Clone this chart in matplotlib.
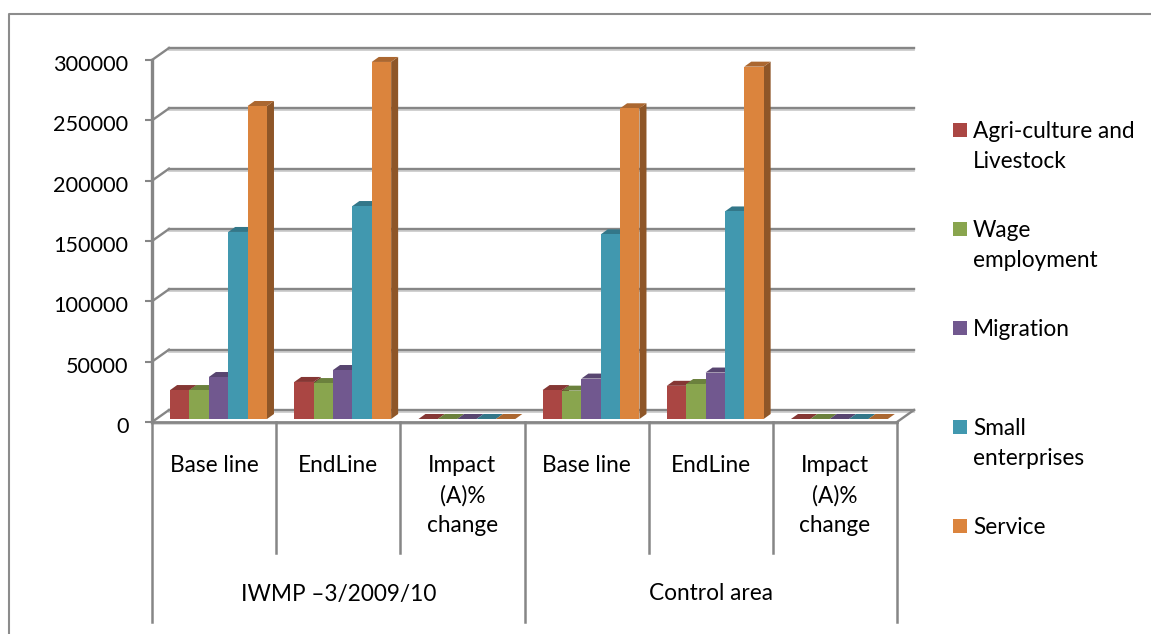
import matplotlib
matplotlib.use('Agg')
import matplotlib.pyplot as plt
from matplotlib.lines import Line2D
from matplotlib.patches import Polygon, Rectangle
from matplotlib.transforms import Affine2D, IdentityTransform
import numpy as np

plt.rcParams['font.family'] = ['Lato', 'DejaVu Sans']

W, H = 1151, 634

categories = ['Base line', 'EndLine', 'Impact\n(A)%\nchange',
              'Base line', 'EndLine', 'Impact\n(A)%\nchange']
groups = ['IWMP –3/2009/10', 'Control area']
series = ['Agri-culture and\nLivestock', 'Wage\nemployment', 'Migration',
          'Small\nenterprises', 'Service']
agri = [24000, 30700, 5, 24000, 27500, 5]
wage = [24000, 29800, 5, 23500, 29000, 5]
migration = [34800, 40600, 5, 33500, 38500, 5]
small = [155000, 176500, 5, 153000, 172000, 5]
service = [259400, 295900, 5, 257500, 292000, 5]
colors = ['#AA4643', '#89A54E', '#71588F', '#4198AF', '#DB843D']
yticks = [0, 50000, 100000, 150000, 200000, 250000, 300000]

GRAY = '#868686'
FS = 16.3


def darker(c, f):
    return tuple(np.array(matplotlib.colors.to_rgb(c)) * f)


fig = plt.figure(figsize=(W / 100, H / 100), dpi=100)
ax = fig.add_axes([152 / W, 1 - 422 / H, 745 / W, 362 / H])
ax.set_xlim(0, 6)
ax.set_ylim(0, 300000)
ax.patch.set_alpha(0)
for s in ['top', 'right', 'bottom']:
    ax.spines[s].set_visible(False)
ax.spines['left'].set_color(GRAY)
ax.spines['left'].set_linewidth(2.4)
ax.set_xticks([])
ax.set_yticks(yticks)
ax.set_yticklabels([str(t) for t in yticks])
ax.tick_params(axis='y', length=5, width=1.5, color=GRAY, labelsize=15.6, pad=12)
for lab in ax.get_yticklabels():
    lab.set_transform(lab.get_transform() + Affine2D().translate(0, -3))

pix = IdentityTransform()


def shifted(dx, dy):
    return ax.transData + Affine2D().translate(dx, dy)


# outer chart border, only top and left show
fig.add_artist(Line2D([9 / W, 9 / W, 1], [0, 1 - 14 / H, 1 - 14 / H], color='#8c8c8c', lw=1.5))

# back wall gridlines and the wall diagonals
for t in yticks:
    ax.plot([0, 6], [t, t], color='#c8c8c8', lw=1.2, transform=shifted(17, 10), clip_on=False, zorder=1)
    ax.plot([0, 6], [t, t], color=GRAY, lw=1.7, transform=shifted(17, 12), clip_on=False, zorder=1.1)
    x0, y0 = ax.transData.transform((0, t))
    ax.add_line(Line2D([x0, x0 + 17], [y0, y0 + 12], color=GRAY, lw=1.7, transform=pix, clip_on=False, zorder=1.1))

# floor edges
ax.plot([0, 6], [0, 0], color='#d0d0d0', lw=1.2, transform=shifted(0, -2), clip_on=False, zorder=1)
ax.plot([0, 6], [0, 0], color=GRAY, lw=2.0, clip_on=False, zorder=5)
x1, y1 = ax.transData.transform((6, 0))
ax.add_line(Line2D([x1, x1 + 17], [y1, y1 + 12], color=GRAY, lw=1.7, transform=pix, clip_on=False, zorder=1.1))

# 3d bars, painted left to right so the next front covers the last side face
bar_w = 0.156
start = 0.146
values = [agri, wage, migration, small, service]
z = 2.0
for i in range(len(categories)):
    for j, vals in enumerate(values):
        left = i + start + j * bar_w
        v = vals[i]
        ax.bar(left, v, bar_w, align='edge', color=colors[j], transform=shifted(0, 3), zorder=z + 0.2, clip_on=False)
        (xa, ya), (xb, yb) = ax.transData.transform([(left, v), (left + bar_w, 0)])
        ya += 3
        yb += 3
        ax.add_patch(Polygon([(xb, yb), (xb + 7, yb + 5), (xb + 7, ya + 5), (xb, ya)], color=darker(colors[j], 0.65),
                             transform=pix, zorder=z, clip_on=False, lw=0))
        ax.add_patch(Polygon([(xa, ya), (xb, ya), (xb + 7, ya + 5), (xa + 7, ya + 5)], color=darker(colors[j], 0.78),
                             transform=pix, zorder=z + 0.1, clip_on=False, lw=0))
        z += 0.5

# multi level category axis
for i in range(7):
    bottom = -200 / 362 if i % 3 == 0 else -131 / 362
    ax.plot([i, i], [0, bottom], color=GRAY, lw=1.8, transform=ax.get_xaxis_transform(), clip_on=False, zorder=1.5)

for i, label in enumerate(categories):
    ax.text(i + 0.5, -33 / 362, label, transform=ax.get_xaxis_transform(), ha='center', va='top',
            fontsize=FS, linespacing=1.52, clip_on=False)
for i, label in enumerate(groups):
    ax.text(i * 3 + 1.5, -172 / 362, label, transform=ax.get_xaxis_transform(), ha='center', va='center',
            fontsize=FS, clip_on=False)

# legend
legend_y = [130, 229, 328, 427, 526]
for label, c, y in zip(series, colors, legend_y):
    fig.add_artist(Rectangle((953 / W, 1 - (y + 7) / H), 14 / W, 14 / H, color=c, lw=0,
                             transform=fig.transFigure))
    fig.text(973 / W, 1 - (y - 9) / H, label, ha='left', va='top', fontsize=FS, linespacing=1.52)

plt.savefig('out.png', dpi=100)
